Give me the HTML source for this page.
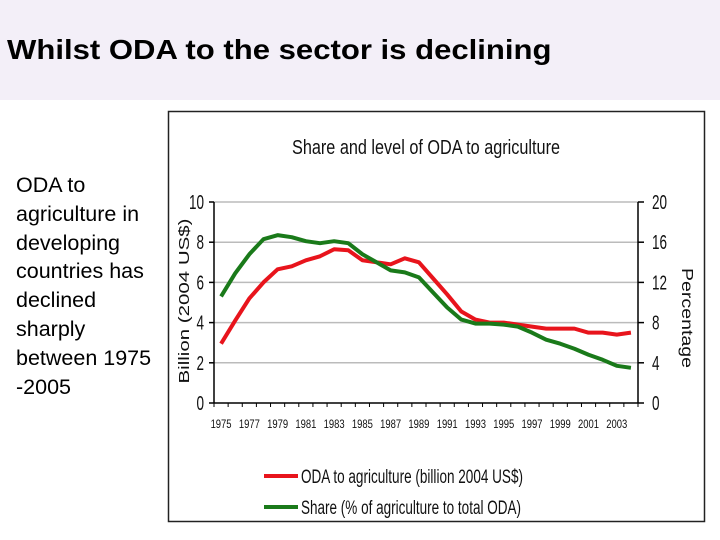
<!DOCTYPE html>
<html><head><meta charset="utf-8"><style>
body{margin:0;width:720px;height:540px;background:#fff;position:relative;overflow:hidden;font-family:"Liberation Sans",sans-serif}
#hdr{position:absolute;left:0;top:0;width:720px;height:100px;background:#f3eff8}
#ttl{position:absolute;left:7px;top:34px;font-size:28px;font-weight:bold;color:#000;transform-origin:0 0;transform:scaleX(1.11);white-space:nowrap}
#side{position:absolute;left:16px;top:171px;font-size:21.5px;line-height:28.8px;color:#000}
svg{position:absolute;left:0;top:0}
</style></head><body>
<div id="hdr"><div id="ttl">Whilst ODA to the sector is declining</div></div>
<div id="side">ODA to<br>agriculture in<br>developing<br>countries has<br>declined<br>sharply<br>between 1975<br>-2005</div>
<svg id="chart" width="720" height="540"></svg>
<script>
const years=[1975,1976,1977,1978,1979,1980,1981,1982,1983,1984,1985,1986,1987,1988,1989,1990,1991,1992,1993,1994,1995,1996,1997,1998,1999,2000,2001,2002,2003,2004];
const odaBillion=[2.95,4.1,5.2,6.0,6.65,6.8,7.1,7.3,7.65,7.6,7.1,7.0,6.9,7.2,7.0,6.2,5.4,4.55,4.15,4.0,4.0,3.9,3.8,3.7,3.7,3.7,3.5,3.5,3.4,3.5];
const sharePct=[10.6,12.9,14.8,16.3,16.7,16.5,16.1,15.9,16.1,15.9,14.8,14.0,13.2,13.0,12.5,11.0,9.5,8.3,7.9,7.9,7.8,7.6,7.0,6.3,5.9,5.4,4.8,4.3,3.7,3.5];
const leftTicks=[0,2,4,6,8,10];
const rightTicks=[0,4,8,12,16,20];
const NS="http://www.w3.org/2000/svg";
const svg=document.getElementById('chart');
const X0=214,X1=638,Y0=403,Y1=202;
const bw=(X1-X0)/years.length;
const xs=i=>X0+bw*(i+0.5);
const yl=v=>Y0-(v/10)*(Y0-Y1);
const yr=v=>Y0-(v/20)*(Y0-Y1);
function mk(t,a,txt){const e=document.createElementNS(NS,t);for(const k in a)e.setAttribute(k,a[k]);if(txt!==undefined)e.textContent=txt;svg.appendChild(e);return e;}
const FN='"Liberation Sans",sans-serif';
const SQ='spacingAndGlyphs';
let e;
e=mk('rect',{x:168.5,y:111.5,width:536,height:410,fill:'#fff',stroke:'#222','stroke-width':1.5});


e=mk('text',{x:292,y:154,'font-size':20,'font-family':FN,fill:'#111',textLength:268,lengthAdjust:SQ},'Share and level of ODA to agriculture');


leftTicks.forEach((t,i)=>{
 const y=yl(t);
 if(t>0){e=mk('line',{x1:X0,x2:X1,y1:y,y2:y,stroke:'#bbb','stroke-width':1.5});
 
 }
 e=mk('line',{x1:X0-5,x2:X0,y1:y,y2:y,stroke:'#000','stroke-width':1.5});
 
 
 e=mk('text',{x:204-7.5*String(t).length,y:y+7,'font-size':20,'font-family':FN,fill:'#111',textLength:7.5*String(t).length,lengthAdjust:SQ},t);
 
 
});
rightTicks.forEach(t=>{
 const y=yr(t);
 e=mk('line',{x1:X1,x2:X1+6,y1:y,y2:y,stroke:'#000','stroke-width':1.5});
 
 
 e=mk('text',{x:652,y:y+7,'font-size':20,'font-family':FN,fill:'#111',textLength:7.5*String(t).length,lengthAdjust:SQ},t);
 
 
});
e=mk('line',{x1:X0,x2:X0,y1:Y1,y2:Y0,stroke:'#000','stroke-width':1.5});


e=mk('line',{x1:X1,x2:X1,y1:Y1,y2:Y0,stroke:'#000','stroke-width':1.5});


e=mk('line',{x1:X0,x2:X1,y1:Y0,y2:Y0,stroke:'#000','stroke-width':1.5});


for(let i=0;i<=years.length;i++){
 e=mk('line',{x1:X0+bw*i,x2:X0+bw*i,y1:Y0,y2:Y0+4,stroke:'#000','stroke-width':1});
 
 
}
years.forEach((yv,i)=>{ if(i%2===0){
 e=mk('text',{x:xs(i)-10.5,y:428,'font-size':12,'font-family':FN,fill:'#111',textLength:21,lengthAdjust:SQ},yv);
 
 
}});
e=mk('text',{x:0,y:0,'text-anchor':'middle','font-size':15,'font-family':FN,fill:'#111',textLength:165,lengthAdjust:SQ,transform:'translate(189,301) rotate(-90)'},'Billion (2004 US$)');


e=mk('text',{x:0,y:0,'text-anchor':'middle','font-size':16,'font-family':FN,fill:'#111',textLength:100,lengthAdjust:SQ,transform:'translate(682,318) rotate(90)'},'Percentage');


e=mk('polyline',{points:odaBillion.map((v,i)=>xs(i)+','+yl(v)).join(' '),fill:'none',stroke:'#e8141c','stroke-width':4,'stroke-linejoin':'round'});


e=mk('polyline',{points:sharePct.map((v,i)=>xs(i)+','+yr(v)).join(' '),fill:'none',stroke:'#1a7a1a','stroke-width':4,'stroke-linejoin':'round'});


e=mk('line',{x1:264,x2:298,y1:476,y2:476,stroke:'#e8141c','stroke-width':4});


e=mk('text',{x:301,y:483,'font-size':19,'font-family':FN,fill:'#111',textLength:222,lengthAdjust:SQ},'ODA to agriculture (billion 2004 US$)');


e=mk('line',{x1:264,x2:298,y1:507,y2:507,stroke:'#1a7a1a','stroke-width':4});


e=mk('text',{x:301,y:514,'font-size':19,'font-family':FN,fill:'#111',textLength:220,lengthAdjust:SQ},'Share (% of agriculture to total ODA)');


</script>
</body></html>
